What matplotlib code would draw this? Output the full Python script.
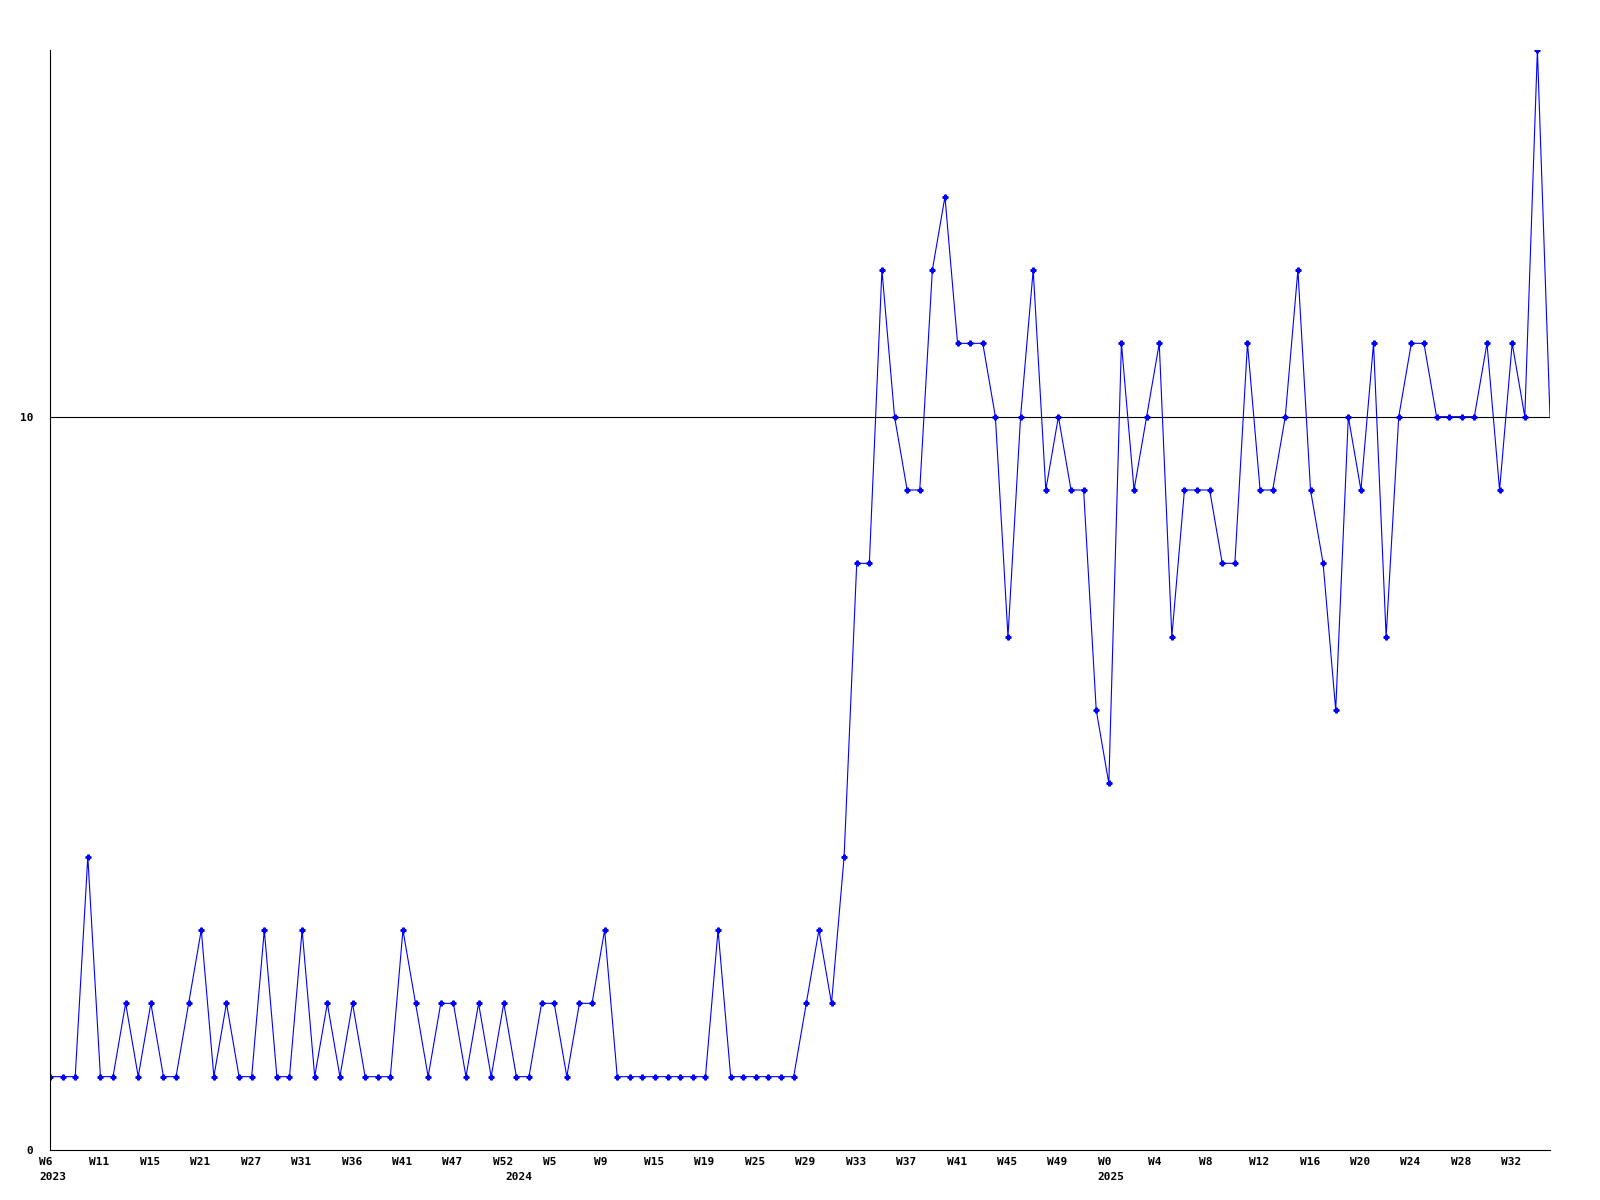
"""
weekly count chart, 2023 W6 .. 2025 W33
"""

import matplotlib
matplotlib.use('Agg')
import matplotlib.pyplot as plt

# one value per week, in order
counts = [1, 1, 1, 4, 1, 1, 2, 1, 2, 1,
          1, 2, 3, 1, 2, 1, 1, 3, 1, 1,
          3, 1, 2, 1, 2, 1, 1, 1, 3, 2,
          1, 2, 2, 1, 2, 1, 2, 1, 1, 2,
          2, 1, 2, 2, 3, 1, 1, 1, 1, 1,
          1, 1, 1, 3, 1, 1, 1, 1, 1, 1,
          2, 3, 2, 4, 8, 8, 12, 10, 9, 9,
          12, 13, 11, 11, 11, 10, 7, 10, 12, 9,
          10, 9, 9, 6, 5, 11, 9, 10, 11, 7,
          9, 9, 9, 8, 8, 11, 9, 9, 10, 12,
          9, 8, 6, 10, 9, 11, 7, 10, 11, 11,
          10, 10, 10, 10, 11, 9, 11, 10, 15, 10]

week_labels = ['W6', 'W11', 'W15', 'W21', 'W27', 'W31', 'W36', 'W41', 'W47', 'W52',
               'W5', 'W9', 'W15', 'W19', 'W25', 'W29', 'W33', 'W37', 'W41', 'W45',
               'W49', 'W0', 'W4', 'W8', 'W12', 'W16', 'W20', 'W24', 'W28', 'W32']
label_step = 4

years = ['2023', '2024', '2025']
year_start = [0, 37, 84]

ref_level = 10
y_max = 15

font = dict(family='DejaVu Sans Mono', fontweight='bold', fontsize=8)

x = list(range(len(counts)))

fig = plt.figure(figsize=(16, 12), dpi=100)
ax = fig.add_axes([50 / 1600, 50 / 1200, 1500 / 1600, 1100 / 1200])

ax.plot(x, counts, color='#0000ff', lw=0.8, marker='P', ms=3.5,
        markevery=list(range(len(counts) - 1)))
ax.axhline(ref_level, color='black', lw=0.8, zorder=0)

ax.set_xlim(0, len(counts) - 1)
ax.set_ylim(0, y_max)

for side in ['top', 'right']:
    ax.spines[side].set_visible(False)
for side in ['left', 'bottom']:
    ax.spines[side].set_linewidth(0.8)

ax.set_xticks([])
ax.set_yticks([0, ref_level])
ax.set_yticklabels(['0', str(ref_level)], **font)
ax.tick_params(axis='y', length=0, pad=12)

for i, lab in enumerate(week_labels):
    ax.annotate(lab, xy=(i * label_step, 0), xycoords=('data', 'axes fraction'),
                xytext=(-11, -7), textcoords='offset pixels', ha='left', va='top', **font)

for pos, yr in zip(year_start, years):
    ax.annotate(yr, xy=(pos, 0), xycoords=('data', 'axes fraction'),
                xytext=(-11, -22), textcoords='offset pixels', ha='left', va='top', **font)

fig.savefig('out.png', dpi=100)
